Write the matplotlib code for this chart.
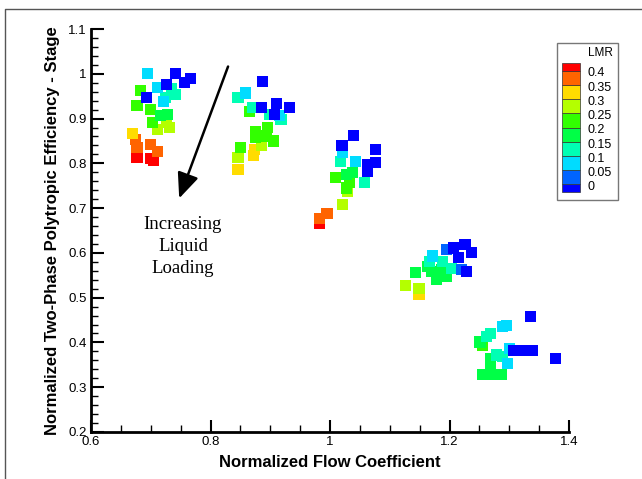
import matplotlib
matplotlib.use("Agg")
from matplotlib import pyplot as plt
from matplotlib.colors import ListedColormap, BoundaryNorm
from matplotlib.patches import Rectangle
from matplotlib.ticker import MultipleLocator
import numpy as np

plt.rcParams['font.family'] = ['Liberation Sans', 'DejaVu Sans']

# normalized flow coefficient, stage efficiency, liquid mass ratio
phi = np.array([
    0.694, 0.742, 0.756, 0.727, 0.766, 0.693, 0.712, 0.724, 0.741, 0.734,
    0.722, 0.683, 0.677, 0.700, 0.717, 0.728, 0.703, 0.711, 0.727, 0.731,
    0.669, 0.675, 0.677, 0.700, 0.712, 0.677, 0.700, 0.704,
    0.887, 0.858, 0.846, 0.870, 0.865, 0.885, 0.910, 0.907, 0.932, 0.915,
    0.899, 0.918, 0.895, 0.876, 0.876, 0.893, 0.906, 0.850, 0.846, 0.885,
    0.873, 0.872, 0.846,
    1.039, 1.020, 1.076, 1.021, 1.017, 1.043, 1.063, 1.076, 1.063, 1.058,
    1.037, 1.027, 1.009, 1.032, 1.027, 1.029, 1.021, 0.995, 0.983, 0.983,
    1.226, 1.206, 1.195, 1.237, 1.215, 1.228, 1.220, 1.172, 1.167, 1.189,
    1.203, 1.164, 1.170, 1.187, 1.195, 1.178, 1.143, 1.127, 1.149, 1.149,
    1.336, 1.378, 1.308, 1.318, 1.328, 1.338, 1.288, 1.295, 1.269, 1.262,
    1.251, 1.255, 1.301, 1.279, 1.288, 1.297, 1.268, 1.268, 1.256, 1.269,
    1.287])
eta = np.array([
    1.001, 1.000, 0.981, 0.977, 0.990, 0.948, 0.970, 0.947, 0.954, 0.966,
    0.939, 0.962, 0.930, 0.921, 0.906, 0.910, 0.892, 0.876, 0.892, 0.880,
    0.867, 0.854, 0.836, 0.842, 0.827, 0.813, 0.811, 0.807,
    0.983, 0.957, 0.948, 0.925, 0.915, 0.925, 0.934, 0.910, 0.925, 0.906,
    0.910, 0.898, 0.880, 0.872, 0.858, 0.861, 0.850, 0.836, 0.813, 0.839,
    0.831, 0.818, 0.787,
    0.863, 0.840, 0.830, 0.824, 0.804, 0.804, 0.798, 0.802, 0.783, 0.757,
    0.779, 0.775, 0.768, 0.758, 0.745, 0.738, 0.708, 0.688, 0.676, 0.665,
    0.619, 0.611, 0.607, 0.600, 0.589, 0.559, 0.563, 0.593, 0.581, 0.581,
    0.566, 0.570, 0.559, 0.563, 0.548, 0.540, 0.557, 0.527, 0.521, 0.508,
    0.458, 0.365, 0.382, 0.382, 0.382, 0.382, 0.436, 0.438, 0.419, 0.413,
    0.401, 0.393, 0.387, 0.372, 0.369, 0.352, 0.365, 0.352, 0.329, 0.328,
    0.328])
lmr = np.array([
    0.10, 0.00, 0.00, 0.00, 0.00, 0.00, 0.10, 0.15, 0.15, 0.15,
    0.10, 0.25, 0.25, 0.25, 0.20, 0.20, 0.25, 0.30, 0.30, 0.30,
    0.35, 0.40, 0.40, 0.40, 0.40, 0.45, 0.45, 0.45,
    0.00, 0.10, 0.15, 0.15, 0.25, 0.00, 0.00, 0.00, 0.00, 0.10,
    0.15, 0.15, 0.25, 0.25, 0.25, 0.25, 0.25, 0.25, 0.30, 0.30,
    0.35, 0.35, 0.35,
    0.00, 0.00, 0.00, 0.10, 0.15, 0.10, 0.00, 0.00, 0.00, 0.15,
    0.20, 0.20, 0.25, 0.25, 0.25, 0.30, 0.30, 0.40, 0.40, 0.45,
    0.00, 0.00, 0.05, 0.00, 0.00, 0.00, 0.05, 0.10, 0.15, 0.15,
    0.15, 0.20, 0.20, 0.20, 0.20, 0.20, 0.20, 0.30, 0.30, 0.35,
    0.00, 0.00, 0.00, 0.00, 0.00, 0.00, 0.10, 0.10, 0.15, 0.15,
    0.20, 0.25, 0.10, 0.15, 0.15, 0.10, 0.20, 0.20, 0.20, 0.20,
    0.20])

level_colors = ['#0000ff', '#0064ff', '#00dcff', '#00ffb4', '#00ff46',
                '#32ff00', '#b4ff00', '#ffdc00', '#ff6400', '#ff0000']
level_labels = ['0', '0.05', '0.1', '0.15', '0.2', '0.25', '0.3', '0.35', '0.4']

x_ticks = [0.6, 0.8, 1.0, 1.2, 1.4]
x_labels = ['0.6', '0.8', '1', '1.2', '1.4']
y_ticks = [0.2, 0.3, 0.4, 0.5, 0.6, 0.7, 0.8, 0.9, 1.0, 1.1]
y_labels = ['0.2', '0.3', '0.4', '0.5', '0.6', '0.7', '0.8', '0.9', '1', '1.1']

cmap = ListedColormap(level_colors)
norm = BoundaryNorm(np.arange(-0.025, 0.5, 0.05), cmap.N)

fig = plt.figure(figsize=(6.42, 4.79), dpi=100)
ax = fig.add_axes([91/642, 47/479, 478/642, 403/479])

order = np.argsort(-lmr, kind='stable')  # blue drawn on top
ax.scatter(phi[order], eta[order], c=lmr[order], cmap=cmap, norm=norm,
           marker='s', s=64, edgecolors='none', zorder=3)

ax.set_xlim(0.6, 1.4)
ax.set_ylim(0.2, 1.1)
ax.set_xticks(x_ticks)
ax.set_xticklabels(x_labels)
ax.set_yticks(y_ticks)
ax.set_yticklabels(y_labels)
ax.xaxis.set_minor_locator(MultipleLocator(0.05))
ax.yaxis.set_minor_locator(MultipleLocator(0.02))
ax.tick_params(which='major', direction='in', length=9, width=1.5, labelsize=9.5, pad=3)
ax.tick_params(which='minor', direction='in', length=5, width=1)
for s in ['top', 'right']:
    ax.spines[s].set_visible(False)
for s in ['left', 'bottom']:
    ax.spines[s].set_linewidth(2)

ax.set_xlabel('Normalized Flow Coefficient', fontweight='bold', fontsize=12, labelpad=5)
ax.set_ylabel('Normalized Two-Phase Polytropic Efficiency - Stage', fontweight='bold',
              fontsize=12, labelpad=6)

# arrow + note
ax.annotate('', xy=(0.746, 0.716), xytext=(0.831, 1.022),
            arrowprops=dict(arrowstyle='-|>,head_length=0.7,head_width=0.3',
                            color='black', lw=1.8, mutation_scale=22))
ax.text(0.754, 0.614, 'Increasing\nLiquid\nLoading', family=['Liberation Serif'],
        fontsize=13.5, ha='center', va='center', linespacing=1.4)

# overlay in pixel units: page frame and contour legend
ov = fig.add_axes([0, 0, 1, 1], zorder=5)
ov.set_xlim(0, 642)
ov.set_ylim(479, 0)
ov.axis('off')
ov.patch.set_alpha(0)
ov.plot([5, 5, 642], [479, 9, 9], color='#555555', lw=1)
ov.add_patch(Rectangle((556.5, 42.5), 61, 157, fill=False, ec='#777777', lw=1))
ov.text(600, 53, 'LMR', fontsize=8.5, ha='center', va='center')
band_top = [184, 170.3, 156.3, 142, 127.7, 113.3, 99.3, 85, 70.7, 63.3]
band_bot = [192.3, 184, 170.3, 156.3, 142, 127.7, 113.3, 99.3, 85, 70.7]
for c, t, b in zip(level_colors, band_top, band_bot):
    ov.add_patch(Rectangle((561.7, t), 18.3, b - t, fc=c, ec='#333333', lw=0.5))
for lab, t in zip(level_labels, band_top[:9]):
    ov.text(588, t + 2.5, lab, fontsize=9, ha='left', va='center')

fig.savefig('out.png', dpi=100)
